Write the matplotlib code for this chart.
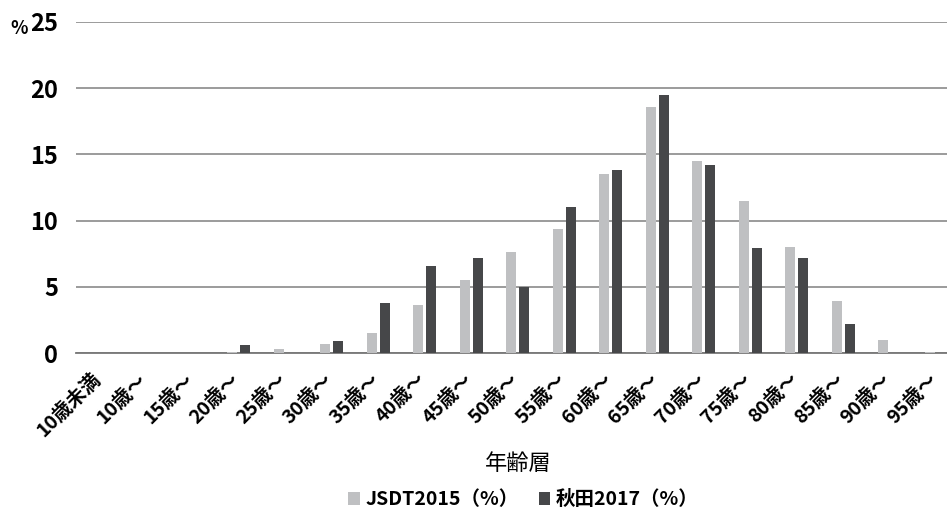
import numpy as np
import matplotlib.pyplot as plt
import matplotlib.transforms as mtransforms

plt.rcParams['font.family'] = ['Noto Sans CJK JP', 'DejaVu Sans']
plt.rcParams['font.weight'] = 'bold'

ages = ['10歳未満', '10歳～', '15歳～', '20歳～', '25歳～', '30歳～', '35歳～',
        '40歳～', '45歳～', '50歳～', '55歳～', '60歳～', '65歳～', '70歳～',
        '75歳～', '80歳～', '85歳～', '90歳～', '95歳～']
jsdt2015 = [0, 0, 0, 0.05, 0.3, 0.7, 1.5, 3.6, 5.5, 7.6, 9.4, 13.5, 18.6, 14.5,
            11.5, 8.0, 3.9, 1.0, 0.05]
akita2017 = [0, 0, 0, 0.6, 0, 0.9, 3.8, 6.6, 7.2, 5.0, 11.0, 13.8, 19.5, 14.2,
             7.9, 7.2, 2.2, 0, 0]

fig = plt.figure(figsize=(9.47, 5.08), dpi=100)
# plot area runs a little past the right edge of the figure
ax = fig.add_axes([0.0803, 0.305, 0.933, 0.652])

x = np.arange(len(ages))
w = 0.215
ax.bar(x - 0.14, jsdt2015, w, color='#bfc0c2', label='JSDT2015（%）', zorder=3)
ax.bar(x + 0.14, akita2017, w, color='#464749', label='秋田2017（%）', zorder=3)

ax.set_xlim(-0.5, len(ages) - 0.5)
ax.set_ylim(0, 25)
ax.set_yticks(range(0, 26, 5))
ax.yaxis.grid(True, color='#8a8a8a', linewidth=1.2, zorder=0)
for s in ['top', 'right', 'left']:
    ax.spines[s].set_visible(False)
ax.spines['bottom'].set_color('#777777')
ax.spines['bottom'].set_linewidth(1.3)
ax.tick_params(axis='both', length=0)
ax.tick_params(axis='y', labelsize=17, pad=13)
ax.set_xticks(x)
ax.set_xticklabels(ages, rotation=45, ha='right', rotation_mode='anchor',
                   fontsize=14)
ax.tick_params(axis='x', pad=12)
shift = mtransforms.ScaledTranslation(-6 / 72, 0, fig.dpi_scale_trans)
for lab in ax.get_xticklabels():
    lab.set_transform(lab.get_transform() + shift)

ax.set_xlabel('年齢層', fontsize=16, labelpad=8)
fig.text(0.011, 0.933, '%', fontsize=13, fontweight='bold')

fig.legend(loc='lower center', bbox_to_anchor=(0.553, -0.037), ncol=2,
           frameon=False, fontsize=14, handlelength=0.6, handleheight=0.6,
           handletextpad=0.3, columnspacing=1.0)

fig.savefig('out.png', dpi=100)
